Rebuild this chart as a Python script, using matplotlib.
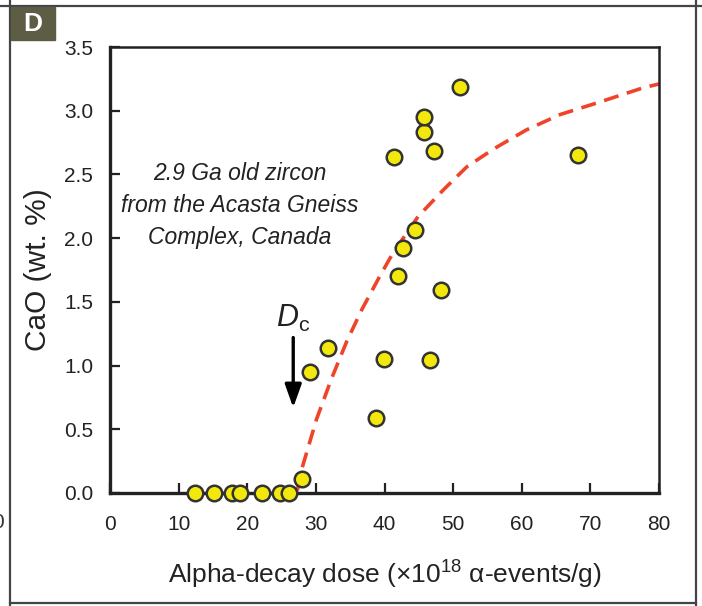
import matplotlib
matplotlib.use("Agg")
import matplotlib.pyplot as plt
from matplotlib.lines import Line2D
from matplotlib.patches import Rectangle
from matplotlib import font_manager

# --- data -------------------------------------------------------------
dose = [12.4, 15.2, 17.8, 19.0, 22.1, 24.8, 26.1,
        28.0, 29.1, 31.8, 38.8, 39.9, 41.4, 42.0, 42.7, 44.4,
        45.8, 45.8, 46.6, 47.2, 48.2, 51.0, 68.2]
cao = [0.0, 0.0, 0.0, 0.0, 0.0, 0.0, 0.0,
       0.11, 0.95, 1.14, 0.59, 1.05, 2.64, 1.70, 1.92, 2.06,
       2.83, 2.95, 1.04, 2.68, 1.59, 3.19, 2.65]

trend_dose = [27.3, 27.9, 30.1, 32.3, 34.5, 36.7, 39.3, 41.2, 44.9,
              48.6, 52.0, 55.9, 60.7, 65.6, 70.9, 77.7, 80.0]
trend_cao = [0.02, 0.18, 0.58, 0.90, 1.19, 1.44, 1.70, 1.88, 2.17,
             2.38, 2.56, 2.70, 2.85, 2.97, 3.06, 3.18, 3.21]

critical_dose = 26.7
x_ticks = [0, 10, 20, 30, 40, 50, 60, 70, 80]
y_ticks = [0.0, 0.5, 1.0, 1.5, 2.0, 2.5, 3.0, 3.5]
y_tick_labels = ["0.0", "0.5", "1.0", "1.5", "2.0", "2.5", "3.0", "3.5"]

# --- fonts ------------------------------------------------------------
installed = {f.name for f in font_manager.fontManager.ttflist}
narrow = "Liberation Sans Narrow" if "Liberation Sans Narrow" in installed else "Liberation Sans"
plt.rcParams["font.family"] = [narrow, "Liberation Sans", "DejaVu Sans"]
plt.rcParams["mathtext.fontset"] = "custom"
plt.rcParams["mathtext.rm"] = narrow
plt.rcParams["mathtext.it"] = narrow + ":italic"

W, H = 702, 606
fig = plt.figure(figsize=(W / 100, H / 100), dpi=100)

# panel frame (table grid lines)
frame_kw = dict(color="#444444", lw=1.6, transform=fig.transFigure)
fig.add_artist(Line2D([0, 1], [1 - 6 / H, 1 - 6 / H], **frame_kw))
fig.add_artist(Line2D([10 / W, 10 / W], [0, 1], **frame_kw))
fig.add_artist(Line2D([696 / W, 696 / W], [0, 1], **frame_kw))
fig.add_artist(Line2D([10 / W, 696 / W], [3 / H, 3 / H], **frame_kw))

# panel badge
fig.add_artist(Rectangle((11 / W, 1 - 40 / H), 44 / W, 33 / H,
                         transform=fig.transFigure, color="#5d5c45", zorder=3))
fig.text(33 / W, 1 - 24 / H, "D", color="white", fontsize=19, fontweight="bold",
         ha="center", va="center", family=["Liberation Sans", "DejaVu Sans"], zorder=4)
fig.text(4 / W, 1 - 523 / H, "0", fontsize=15, ha="right", va="center", color="#333333")

ax = fig.add_axes([110 / W, 1 - 493 / H, (659 - 110) / W, (493 - 47) / H])
ax.set_xlim(0, 80)
ax.set_ylim(0, 3.5)

ax.plot(trend_dose, trend_cao, color="#f0442a", lw=2.6, dashes=(4.2, 2.4),
        solid_capstyle="butt", dash_capstyle="butt", zorder=2)
ax.scatter(dose, cao, s=125, facecolor="#f3e80c", edgecolor="#333333",
           linewidth=1.8, zorder=3, clip_on=False)

# critical dose marker
ax.annotate("", xy=(critical_dose, 0.67), xytext=(critical_dose, 1.22),
            arrowprops=dict(arrowstyle="-|>,head_width=0.5,head_length=1.4",
                            color="black", lw=2.4, shrinkA=0, shrinkB=0))
ax.text(critical_dose, 1.37, r"$\mathit{D}_\mathrm{c}$", fontsize=22,
        ha="center", va="center", color="#222222")

ax.text(18.9, 2.26,
        "2.9 Ga old zircon\nfrom the Acasta Gneiss\nComplex, Canada",
        fontsize=16.5, style="italic", ha="center", va="center",
        linespacing=1.5, color="#222222")

ax.set_xticks(x_ticks)
ax.set_yticks(y_ticks)
ax.set_yticklabels(y_tick_labels)
ax.tick_params(direction="in", length=7, width=1.6, color="#222222",
               labelsize=15, labelcolor="#222222")
ax.tick_params(axis="x", pad=16)
ax.tick_params(axis="y", pad=12)
for side in ["top", "right"]:
    ax.spines[side].set_linewidth(1.8)
for side in ["left", "bottom"]:
    ax.spines[side].set_linewidth(2.4)
for sp in ax.spines.values():
    sp.set_color("#222222")
ax.tick_params(top=False, right=False)

ax.set_xlabel("Alpha-decay dose (×10$^{18}$ α-events/g)",
              fontsize=19, color="#222222", labelpad=18)
ax.set_ylabel("CaO (wt. %)", fontsize=21.5, color="#222222", labelpad=9,
              family=["Liberation Sans", "DejaVu Sans"])

fig.savefig("out.png", dpi=100)
